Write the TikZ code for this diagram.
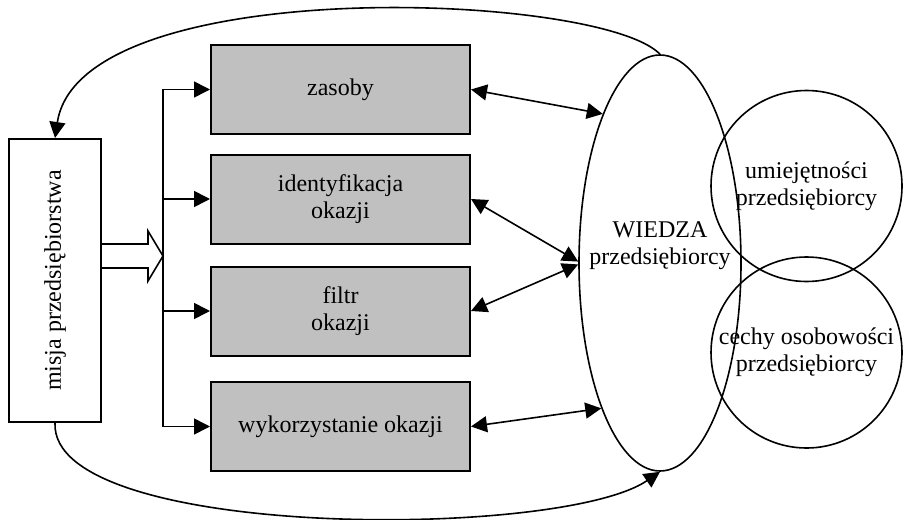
\documentclass[tikz,border=0pt]{standalone}
\usepackage{fontspec}
\setmainfont{Liberation Serif}
\usetikzlibrary{positioning,shapes.geometric,arrows.meta,calc}
\definecolor{boxgray}{RGB}{192,192,192}

\begin{document}
\begin{tikzpicture}[x=0.5pt,y=-0.5pt,line width=0.8pt,
  font=\fontsize{12}{13.5}\selectfont,
  tip/.style={-{Triangle[length=8pt,width=8pt]}},
  dtip/.style={{Triangle[length=8pt,width=8pt]}-{Triangle[length=8pt,width=8pt]}},
  graybox/.style={draw, line width=1pt, fill=boxgray, minimum width=129.5pt, minimum height=44.5pt, align=center, inner sep=0pt},
  ring/.style={draw, circle, minimum size=95.5pt, inner sep=0pt, align=center}]
  \useasboundingbox (0,0) rectangle (903,519);
  % mission box
  \node[draw, line width=1pt, minimum width=46pt, minimum height=141.5pt, inner sep=0pt] (mis) at (55,280.5) {\rotatebox{90}{misja przedsiębiorstwa}};
  % the four gray boxes
  \node[graybox] (zas) at (340.5,89.5) {zasoby};
  \node[graybox] (ide) at (340.5,199) {identyfikacja\\okazji};
  \node[graybox] (fil) at (340.5,311) {filtr\\okazji};
  \node[graybox] (wyk) at (340.5,426.5) {wykorzystanie okazji};
  \coordinate (bus) at (163,0);
  % knowledge and the two circles
  \node[draw, ellipse, minimum width=81pt, minimum height=208pt, inner sep=0pt,
        label={[yshift=8.5pt, align=center]center:{WIEDZA\\przedsiębiorcy}}] (wiedza) at (660,263) {};
  \node[ring] (umiej) at (806.5,186) {umiejętności\\przedsiębiorcy};
  \node[ring] (cechy) at (806.5,352.5) {cechy osobowości\\przedsiębiorcy};
  % hollow arrow
  \draw (101,244) -- (148,244) -- (148,231) -- (bus |- 0,256) -- (148,281) -- (148,268) -- (101,268);
  % branches
  \draw (bus |- zas.west) -- (bus |- wyk.west);
  \foreach \b in {zas,ide,fil,wyk} {
    \draw[tip] (bus |- \b.west) -- (\b.west);
  }
  \draw[dtip] (zas.east) -- (wiedza.111.5);
  \draw[dtip] (ide.east) -- (wiedza.179);
  \draw[dtip] (fil.east) -- (wiedza.181);
  \draw[dtip] (wyk.east) -- (wiedza.248.7);
  % feedback curves
  \draw[tip] (wiedza.north) .. controls (600,-8) and (80,-28) .. (mis.north);
  \draw[tip] (mis.south) .. controls (50,540) and (560,540) .. (wiedza.south);
\end{tikzpicture}
\end{document}
